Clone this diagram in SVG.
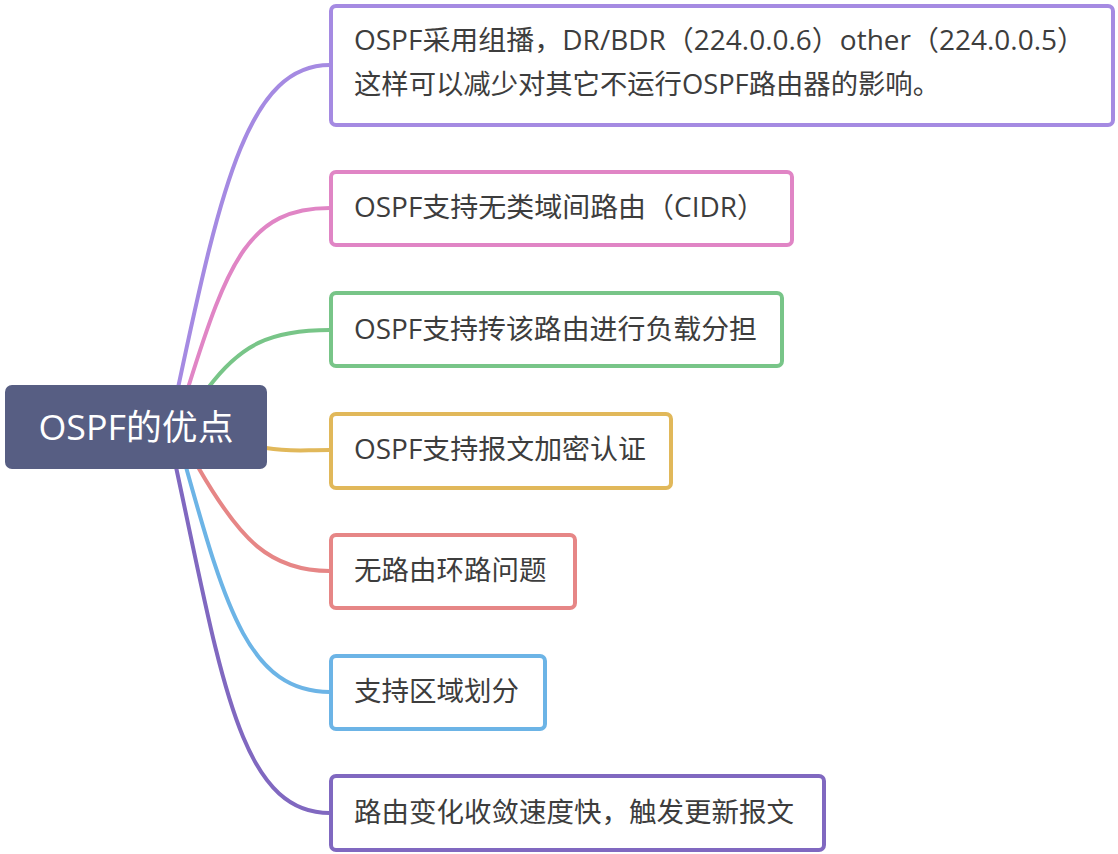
<svg xmlns="http://www.w3.org/2000/svg" width="1118" height="854" viewBox="0 0 1118 854">
<style>
.box{fill:#fff;stroke-width:4}
.t{font-family:"Open Sans","Noto Sans CJK SC",sans-serif;font-size:27.5px;fill:#3d3d3d}
.c{fill:none;stroke-width:4;stroke-linecap:round}
</style>
<rect width="1118" height="854" fill="#fff"/>
<g id="connectors">
<path class="c" stroke="#a58ae2" d="M178 388 C 222 180 250 65 330 65"/>
<path class="c" stroke="#e085c5" d="M188 388 C 228 260 250 208 330 208"/>
<path class="c" stroke="#78c588" d="M208 388 C 240 345 270 330 330 330"/>
<path class="c" stroke="#e1b85a" d="M266 448 C 290 452 300 450 330 450"/>
<path class="c" stroke="#e68686" d="M198 467 C 240 540 270 571 330 571"/>
<path class="c" stroke="#6cb4e6" d="M186 467 C 226 610 250 692 330 692"/>
<path class="c" stroke="#8068c0" d="M176 467 C 222 680 240 813 330 813"/>
</g>
<g id="root">
<rect x="5" y="385" width="262" height="84" rx="7" fill="#575e83"/>
<text x="136" y="440" text-anchor="middle" font-family="'Open Sans','Noto Sans CJK SC',sans-serif" font-size="35.5" fill="#fff" textLength="195" lengthAdjust="spacingAndGlyphs">OSPF的优点</text>
</g>
<g id="n1">
<rect class="box" x="331" y="6" width="782" height="119" rx="5" stroke="#a58ae2"/>
<text class="t" x="354" y="50" textLength="731" lengthAdjust="spacingAndGlyphs">OSPF采用组播，DR/BDR（224.0.0.6）other（224.0.0.5）</text>
<text class="t" x="354" y="94" textLength="586" lengthAdjust="spacingAndGlyphs">这样可以减少对其它不运行OSPF路由器的影响。</text>
</g>
<g id="n2">
<rect class="box" x="331" y="172" width="461" height="73" rx="5" stroke="#e085c5"/>
<text class="t" x="354" y="217" textLength="411" lengthAdjust="spacingAndGlyphs">OSPF支持无类域间路由（CIDR）</text>
</g>
<g id="n3">
<rect class="box" x="331" y="293" width="451" height="73" rx="5" stroke="#78c588"/>
<text class="t" x="354" y="339" textLength="403" lengthAdjust="spacingAndGlyphs">OSPF支持抟该路由进行负载分担</text>
</g>
<g id="n4">
<rect class="box" x="331" y="414" width="340" height="74" rx="5" stroke="#e1b85a"/>
<text class="t" x="354" y="459" textLength="292" lengthAdjust="spacingAndGlyphs">OSPF支持报文加密认证</text>
</g>
<g id="n5">
<rect class="box" x="331" y="535" width="244" height="73" rx="5" stroke="#e68686"/>
<text class="t" x="354" y="580">无路由环路问题</text>
</g>
<g id="n6">
<rect class="box" x="331" y="656" width="214" height="73" rx="5" stroke="#6cb4e6"/>
<text class="t" x="354" y="701">支持区域划分</text>
</g>
<g id="n7">
<rect class="box" x="331" y="776" width="493" height="74" rx="5" stroke="#8068c0"/>
<text class="t" x="354" y="822">路由变化收敛速度快，触发更新报文</text>
</g>
</svg>
